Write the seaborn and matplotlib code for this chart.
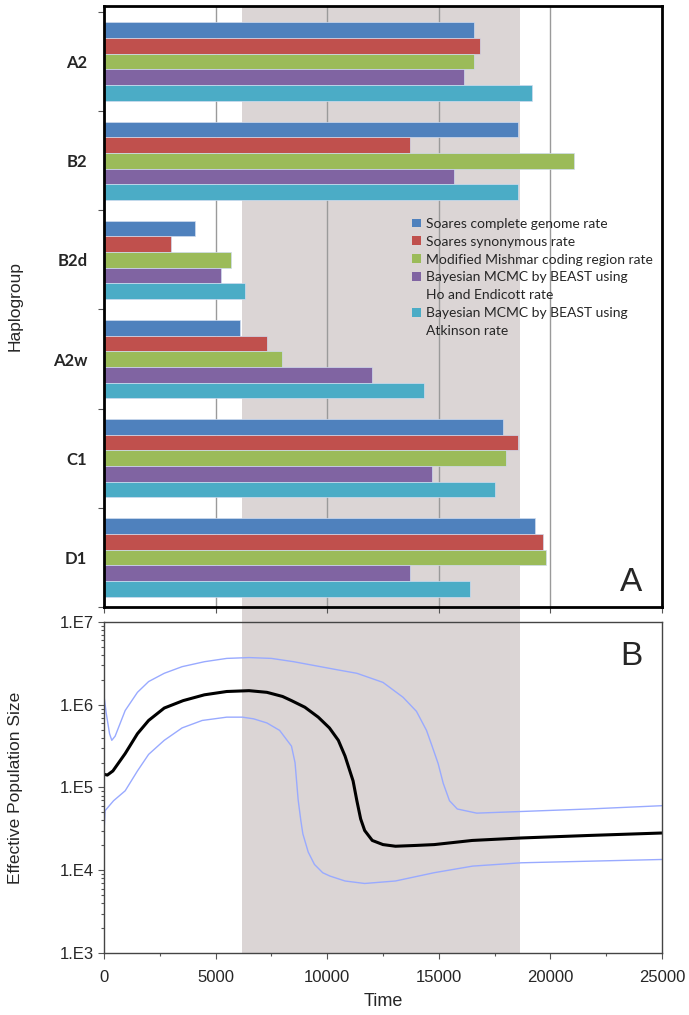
import numpy as np
import pandas as pd
import seaborn as sns
import matplotlib.pyplot as plt
from matplotlib.patches import Patch
from matplotlib.ticker import LogLocator, MultipleLocator, NullFormatter

# Panel A: haplogroup ages (years) by dating method
groups = ['A2', 'B2', 'B2d', 'A2w', 'C1', 'D1']
series = ['Soares complete genome rate',
          'Soares synonymous rate',
          'Modified Mishmar coding region rate',
          'Bayesian MCMC by BEAST using\nHo and Endicott rate',
          'Bayesian MCMC by BEAST using\nAtkinson rate']
soares_complete = [16570, 18560, 4100, 6110, 17870, 19290]
soares_synonymous = [16830, 13720, 2990, 7300, 18530, 19690]
mishmar_coding = [16570, 21040, 5680, 7960, 18030, 19790]
beast_ho_endicott = [16130, 15690, 5230, 11990, 14710, 13720]
beast_atkinson = [19170, 18560, 6320, 14330, 17540, 16380]
colors = ['#4F81BD', '#C0504D', '#9BBB59', '#8064A2', '#4BACC6']

# shaded period (years)
shade_range = (6200, 18650)

# Panel B: Bayesian skyline, log10 of effective population size
median_t = [0, 150, 400, 950, 1500, 2000, 2700, 3550, 4500, 5500, 6500, 7300,
            8000, 8400, 9000, 9600, 10100, 10500, 10800, 11160, 11330, 11500,
            11680, 12020, 12500, 13060, 14000, 14800, 16500, 18700, 21700, 25000]
median_log = [5.16, 5.15, 5.20, 5.41, 5.65, 5.81, 5.96, 6.05, 6.12, 6.16, 6.17, 6.15,
              6.10, 6.05, 5.97, 5.85, 5.72, 5.57, 5.38, 5.08, 4.84, 4.62,
              4.48, 4.36, 4.31, 4.29, 4.30, 4.31, 4.36, 4.39, 4.42, 4.45]
upper_t = [0, 100, 250, 350, 500, 950, 1500, 2000, 2700, 3500, 4500, 5500, 6500,
           7500, 8500, 9500, 10500, 11330, 12500, 13400, 14000, 14450, 14700,
           14970, 15200, 15480, 15830, 16700, 18700, 21700, 25000]
upper_log = [6.11, 5.90, 5.65, 5.57, 5.62, 5.93, 6.15, 6.28, 6.38, 6.46, 6.52, 6.56, 6.57,
             6.56, 6.52, 6.47, 6.42, 6.38, 6.27, 6.09, 5.92, 5.69, 5.50,
             5.29, 5.05, 4.84, 4.74, 4.69, 4.71, 4.74, 4.78]
lower_t = [0, 50, 430, 950, 1500, 2000, 2700, 3500, 4400, 5500, 6200, 6700, 7300,
           7870, 8400, 8560, 8700, 8820, 8910, 9150, 9430, 9800, 10120, 10800,
           11680, 13060, 14790, 16520, 18700, 25000]
lower_log = [4.45, 4.72, 4.84, 4.96, 5.20, 5.40, 5.57, 5.72, 5.81, 5.85, 5.85, 5.83, 5.78,
             5.69, 5.50, 5.30, 4.85, 4.60, 4.44, 4.22, 4.07, 3.97, 3.93, 3.87,
             3.84, 3.87, 3.97, 4.05, 4.09, 4.13]

sns.set_style('white')
plt.rcParams['font.family'] = ['Liberation Sans', 'DejaVu Sans']

fig = plt.figure(figsize=(6.89, 10.15), dpi=100)
axA = fig.add_axes([0.1509, 0.4020, 0.8099, 0.5921])
axB = fig.add_axes([0.1509, 0.0611, 0.8099, 0.3261])

# ---- panel A ----
df = pd.DataFrame({
    'group': groups * 5,
    'series': np.repeat(series, len(groups)),
    'age': soares_complete + soares_synonymous + mishmar_coding
           + beast_ho_endicott + beast_atkinson,
})
sns.barplot(data=df, y='group', x='age', hue='series', order=groups,
            hue_order=series, palette=colors, orient='h', width=0.79,
            saturation=1, edgecolor='#d0dcef', linewidth=0.5, legend=False,
            ax=axA)

axA.axvspan(*shade_range, ymin=-0.026, ymax=1, color='#dbd5d5', lw=0,
            zorder=0, clip_on=False)
axA.set_axisbelow(True)
axA.grid(axis='x', color='#9a9a9a', lw=1)
axA.set_xlim(0, 25000)
axA.set_ylim(5.5, -0.56)
axA.set_xticks(range(0, 25001, 5000))
axA.set_xticklabels([])
axA.set_xlabel('')
axA.set_ylabel('Haplogroup', fontsize=12.5)
axA.yaxis.set_label_coords(-0.145, 0.5)
axA.set_yticks(range(len(groups)))
axA.set_yticklabels(groups, fontsize=12, fontweight='bold', family=['Lato', 'DejaVu Sans'])
axA.set_yticks(np.arange(-0.5, len(groups), 1), minor=True)
axA.tick_params(axis='y', which='major', length=0, pad=12)
axA.tick_params(axis='y', which='minor', left=True, length=4, width=0.8, color='#555555')
axA.tick_params(axis='x', bottom=True, length=4, width=0.8, color='#555555')
for s in axA.spines.values():
    s.set_color('black')
    s.set_linewidth(2)

hs = []
ls = []
for name, c in zip(series, colors):
    first, *rest = name.split('\n')
    hs.append(Patch(facecolor=c, edgecolor='none'))
    ls.append(first)
    for r in rest:
        hs.append(Patch(facecolor='none', edgecolor='none'))
        ls.append(r)
axA.legend(hs, ls, loc='upper left', bbox_to_anchor=(0.54, 0.659), frameon=False,
           prop={'family': ['Lato', 'DejaVu Sans'], 'size': 10},
           handlelength=0.6, handleheight=0.6, handletextpad=0.4,
           labelspacing=0.42, borderpad=0)
axA.text(0.945, 0.015, 'A', transform=axA.transAxes, fontsize=24,
         ha='center', va='bottom')

# ---- panel B ----
axB.axvspan(*shade_range, color='#dbd5d5', lw=0, zorder=0)
sns.lineplot(x=upper_t, y=10 ** np.array(upper_log), color='#99aaff', lw=1, ax=axB)
sns.lineplot(x=lower_t, y=10 ** np.array(lower_log), color='#99aaff', lw=1, ax=axB)
sns.lineplot(x=median_t, y=10 ** np.array(median_log), color='black', lw=2.2, ax=axB)
axB.set_yscale('log')
axB.set_ylim(1e3, 1e7)
axB.set_xlim(0, 25000)
axB.set_yticks([1e3, 1e4, 1e5, 1e6, 1e7], ['1.E3', '1.E4', '1.E5', '1.E6', '1.E7'])
axB.yaxis.set_minor_locator(LogLocator(base=10, subs=np.arange(2, 10)))
axB.yaxis.set_minor_formatter(NullFormatter())
axB.set_xticks(range(0, 25001, 5000))
axB.xaxis.set_minor_locator(MultipleLocator(2500))
axB.tick_params(axis='both', which='major', labelsize=12, length=4, width=0.8,
                color='#555555', left=True, bottom=True)
axB.tick_params(axis='both', which='minor', length=2, width=0.8,
                color='#555555', left=True, bottom=True)
axB.tick_params(axis='x', pad=8)
axB.set_xlabel('Time', fontsize=13, labelpad=6)
axB.set_ylabel('Effective Population Size', fontsize=12.5)
axB.yaxis.set_label_coords(-0.145, 0.5)
for s in axB.spines.values():
    s.set_color('#444444')
    s.set_linewidth(1)
axB.text(0.945, 0.85, 'B', transform=axB.transAxes, fontsize=24,
         ha='center', va='bottom')

fig.savefig('out.png', dpi=100)
